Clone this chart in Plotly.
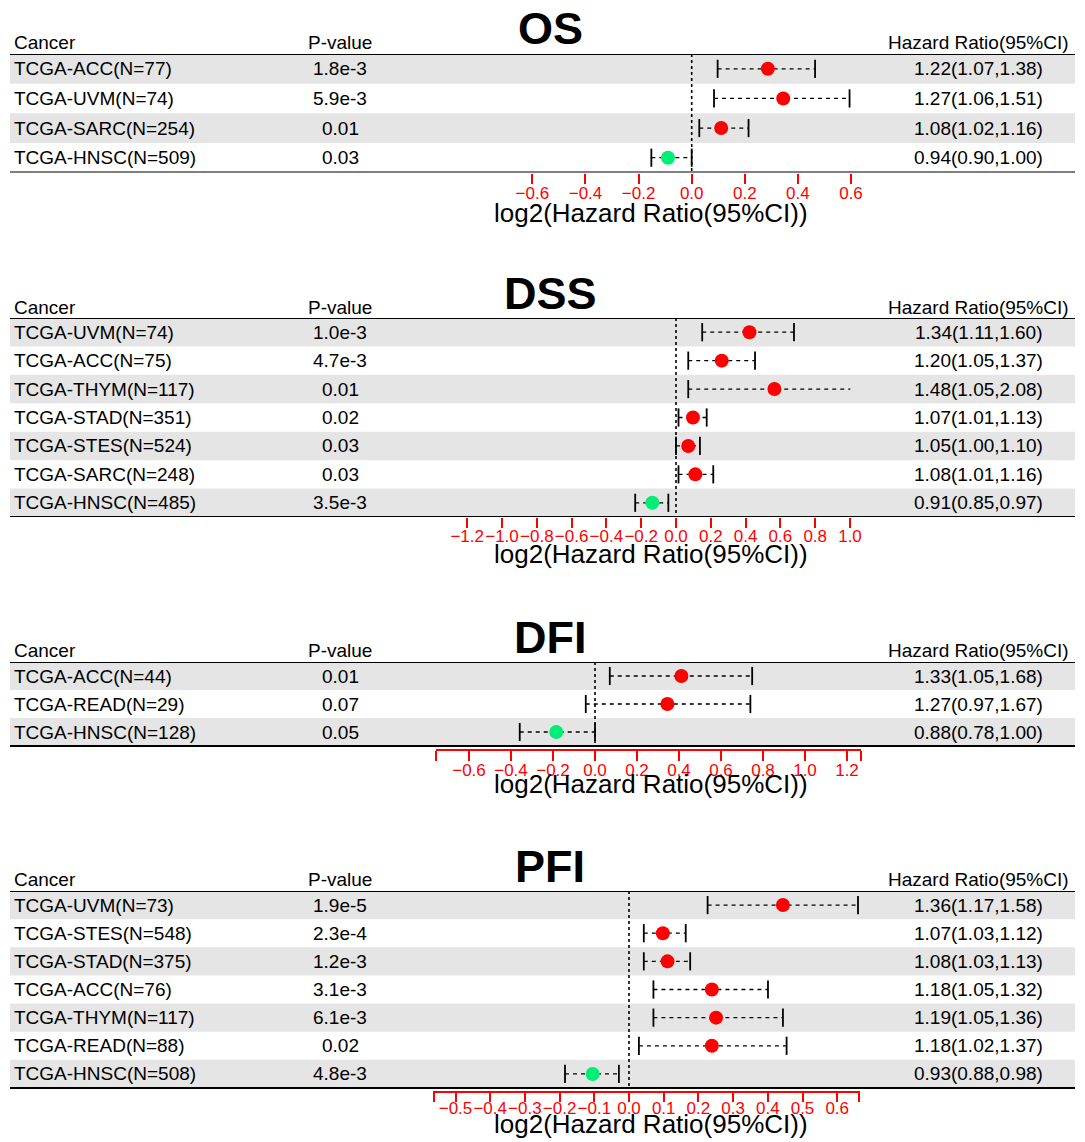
import numpy as np
import plotly.graph_objects as go

W, H = 1085, 1142

# ---------------- data ----------------
os_cancer = ["TCGA-ACC(N=77)", "TCGA-UVM(N=74)", "TCGA-SARC(N=254)", "TCGA-HNSC(N=509)"]
os_p = ["1.8e-3", "5.9e-3", "0.01", "0.03"]
os_hr = [1.22, 1.27, 1.08, 0.94]
os_lo = [1.07, 1.06, 1.02, 0.90]
os_hi = [1.38, 1.51, 1.16, 1.00]

dss_cancer = ["TCGA-UVM(N=74)", "TCGA-ACC(N=75)", "TCGA-THYM(N=117)", "TCGA-STAD(N=351)",
              "TCGA-STES(N=524)", "TCGA-SARC(N=248)", "TCGA-HNSC(N=485)"]
dss_p = ["1.0e-3", "4.7e-3", "0.01", "0.02", "0.03", "0.03", "3.5e-3"]
dss_hr = [1.34, 1.20, 1.48, 1.07, 1.05, 1.08, 0.91]
dss_lo = [1.11, 1.05, 1.05, 1.01, 1.00, 1.01, 0.85]
dss_hi = [1.60, 1.37, 2.08, 1.13, 1.10, 1.16, 0.97]

dfi_cancer = ["TCGA-ACC(N=44)", "TCGA-READ(N=29)", "TCGA-HNSC(N=128)"]
dfi_p = ["0.01", "0.07", "0.05"]
dfi_hr = [1.33, 1.27, 0.88]
dfi_lo = [1.05, 0.97, 0.78]
dfi_hi = [1.68, 1.67, 1.00]

pfi_cancer = ["TCGA-UVM(N=73)", "TCGA-STES(N=548)", "TCGA-STAD(N=375)", "TCGA-ACC(N=76)",
              "TCGA-THYM(N=117)", "TCGA-READ(N=88)", "TCGA-HNSC(N=508)"]
pfi_p = ["1.9e-5", "2.3e-4", "1.2e-3", "3.1e-3", "6.1e-3", "0.02", "4.8e-3"]
pfi_hr = [1.36, 1.07, 1.08, 1.18, 1.19, 1.18, 0.93]
pfi_lo = [1.17, 1.03, 1.03, 1.05, 1.05, 1.02, 0.88]
pfi_hi = [1.58, 1.12, 1.13, 1.32, 1.36, 1.37, 0.98]

os_ticks = [-0.6, -0.4, -0.2, 0.0, 0.2, 0.4, 0.6]
dss_ticks = [-1.2, -1.0, -0.8, -0.6, -0.4, -0.2, 0.0, 0.2, 0.4, 0.6, 0.8, 1.0]
dfi_ticks = [-0.6, -0.4, -0.2, 0.0, 0.2, 0.4, 0.6, 0.8, 1.0, 1.2]
pfi_ticks = [-0.5, -0.4, -0.3, -0.2, -0.1, 0.0, 0.1, 0.2, 0.3, 0.4, 0.5, 0.6]

panel_titles = ["OS", "DSS", "DFI", "PFI"]
header_labels = ["Cancer", "P-value", "Hazard Ratio(95%CI)"]
xlabel = "log2(Hazard Ratio(95%CI))"

# ---------------- layout geometry (pixels) ----------------
panels = [
    dict(title=panel_titles[0], cancer=os_cancer, p=os_p, hr=os_hr, lo=os_lo, hi=os_hi, ticks=os_ticks,
         top=54, bottom=172.5, title_y=29, head_y=43, xlab_y=213, axis_off=0, standoff=-5,
         ends=None, zero_px=691.7, ppu=265.5, rng=(-0.6, 0.6)),
    dict(title=panel_titles[1], cancer=dss_cancer, p=dss_p, hr=dss_hr, lo=dss_lo, hi=dss_hi, ticks=dss_ticks,
         top=318, bottom=517, title_y=293, head_y=307, xlab_y=554, axis_off=0, standoff=-6,
         ends=None, zero_px=676.0, ppu=174.0, rng=(-1.2, 1.0)),
    dict(title=panel_titles[2], cancer=dfi_cancer, p=dfi_p, hr=dfi_hr, lo=dfi_lo, hi=dfi_hi, ticks=dfi_ticks,
         top=662, bottom=746, title_y=637, head_y=651, xlab_y=784, axis_off=3, standoff=-5,
         ends=(-0.757, 1.266), zero_px=595.0, ppu=210.0, rng=(-0.757, 1.266)),
    dict(title=panel_titles[3], cancer=pfi_cancer, p=pfi_p, hr=pfi_hr, lo=pfi_lo, hi=pfi_hi, ticks=pfi_ticks,
         top=891, bottom=1088, title_y=866, head_y=880, xlab_y=1124, axis_off=2.5, standoff=-9,
         ends=(-0.562, 0.664), zero_px=629.0, ppu=347.0, rng=(-0.562, 0.664)),
]

FONT = "Liberation Sans, Arial, sans-serif"
RED = "#FF0000"
GREEN = "#00EE76"
GRAY = "#E5E5E5"
LEFT, RIGHT = 10, 1075
COL_P = 340
COL_HR = 978


def xp(px):
    return px / W


def yp(py):
    return 1 - py / H


def lab(v):
    s = "{:.1f}".format(abs(v))
    return ("\u2212" + s) if v < -1e-9 else s


fig = go.Figure()
shapes = []
annotations = []
layout_axes = {}

for k, P in enumerate(panels, start=1):
    xa = "x" if k == 1 else f"x{k}"
    ya = "y" if k == 1 else f"y{k}"
    n = len(P["cancer"])
    rows = list(range(1, n + 1))
    pitch = (P["bottom"] - P["top"]) / n

    # axes
    eps = 0.002
    v0, v1 = P["rng"][0] - eps, P["rng"][1] + eps
    d0 = xp(P["zero_px"] + v0 * P["ppu"])
    d1 = xp(P["zero_px"] + v1 * P["ppu"])
    tv = list(P["ticks"])
    tt = [lab(v) for v in tv]
    if P["ends"]:
        tv = [P["ends"][0]] + tv + [P["ends"][1]]
        tt = [""] + tt + [""]
    off = P["axis_off"]
    ybot_px = P["bottom"] + off
    layout_axes["xaxis" if k == 1 else f"xaxis{k}"] = dict(
        domain=[d0, d1], range=[v0, v1], anchor=ya, side="bottom",
        showgrid=False, zeroline=False, automargin=False,
        showline=P["ends"] is not None, linecolor=RED, linewidth=1.5,
        ticks="outside", ticklen=10, tickwidth=1.5, tickcolor=RED,
        tickvals=tv, ticktext=tt, tickangle=0, ticklabelstandoff=P["standoff"],
        tickfont=dict(family=FONT, size=17, color=RED),
    )
    layout_axes["yaxis" if k == 1 else f"yaxis{k}"] = dict(
        domain=[yp(ybot_px), yp(P["top"])],
        range=[n + 0.5 + off / pitch, 0.5], anchor=xa, automargin=False,
        visible=False, showgrid=False, zeroline=False,
    )

    # gray bands
    for i in rows:
        if i % 2 == 1:
            shapes.append(dict(type="rect", xref="paper", yref=ya, x0=xp(LEFT), x1=xp(RIGHT),
                               y0=i - 0.5, y1=i + 0.5, fillcolor=GRAY, line=dict(width=0),
                               layer="below"))
    # zero dotted line
    shapes.append(dict(type="line", xref=xa, yref=ya, x0=0, x1=0, y0=0.5, y1=n + 0.5,
                       line=dict(color="black", width=1.6, dash="dot"), layer="below"))
    # table lines
    for yv in (0.5, n + 0.5):
        shapes.append(dict(type="line", xref="paper", yref=ya, x0=xp(LEFT), x1=xp(RIGHT),
                           y0=yv, y1=yv, line=dict(color="black", width=2), layer="above"))

    # CI dashed lines
    lx, ly = [], []
    for i, lo, hi in zip(rows, P["lo"], P["hi"]):
        lx += [np.log2(lo), np.log2(hi), None]
        ly += [i, i, None]
    fig.add_trace(go.Scatter(x=lx, y=ly, xaxis=xa, yaxis=ya, mode="lines",
                             line=dict(color="black", width=1.3, dash="4px,4px"),
                             hoverinfo="skip", showlegend=False, cliponaxis=False))
    # caps
    cx = [np.log2(v) for v in P["lo"]] + [np.log2(v) for v in P["hi"]]
    cy = rows + rows
    fig.add_trace(go.Scatter(x=cx, y=cy, xaxis=xa, yaxis=ya, mode="markers",
                             marker=dict(symbol="line-ns", size=13,
                                         line=dict(color="black", width=1.8)),
                             hoverinfo="skip", showlegend=False, cliponaxis=False))
    # points
    cols = [RED if h > 1 else GREEN for h in P["hr"]]
    fig.add_trace(go.Scatter(x=[np.log2(h) for h in P["hr"]], y=rows, xaxis=xa, yaxis=ya,
                             mode="markers", marker=dict(size=14, color=cols, line=dict(width=0)),
                             showlegend=False, cliponaxis=False))

    # table text
    for i, c, p, hr, lo, hi in zip(rows, P["cancer"], P["p"], P["hr"], P["lo"], P["hi"]):
        annotations.append(dict(xref="paper", yref=ya, x=xp(12), y=i, text=c, showarrow=False,
                                xanchor="left", yanchor="middle",
                                font=dict(family=FONT, size=19, color="black")))
        annotations.append(dict(xref="paper", yref=ya, x=xp(COL_P), y=i, text=p, showarrow=False,
                                xanchor="center", yanchor="middle",
                                font=dict(family=FONT, size=19, color="black")))
        annotations.append(dict(xref="paper", yref=ya, x=xp(COL_HR), y=i,
                                text=f"{hr:.2f}({lo:.2f},{hi:.2f})", showarrow=False,
                                xanchor="center", yanchor="middle",
                                font=dict(family=FONT, size=19, color="black")))
    # headers
    for txt, x, anc in zip(header_labels, (12, COL_P, COL_HR), ("left", "center", "center")):
        annotations.append(dict(xref="paper", yref="paper", x=xp(x), y=yp(P["head_y"]), text=txt,
                                showarrow=False, xanchor=anc, yanchor="middle",
                                font=dict(family=FONT, size=19, color="black")))
    # title
    annotations.append(dict(xref="paper", yref="paper", x=xp(550), y=yp(P["title_y"]),
                            text=f"<b>{P['title']}</b>", showarrow=False, xanchor="center",
                            yanchor="middle", font=dict(family=FONT, size=45, color="black")))
    # x label
    annotations.append(dict(xref="paper", yref="paper", x=xp(651), y=yp(P["xlab_y"]),
                            text=xlabel, showarrow=False, xanchor="center", yanchor="middle",
                            font=dict(family=FONT, size=26, color="black")))

fig.update_layout(
    width=W, height=H, margin=dict(l=0, r=0, t=0, b=0, pad=0, autoexpand=False),
    paper_bgcolor="white", plot_bgcolor="rgba(0,0,0,0)",
    shapes=shapes, annotations=annotations, showlegend=False,
    **layout_axes,
)

fig.write_html(
    "out.html",
    config={"displayModeBar": False},
    post_script="document.body.style.margin='0';document.body.style.overflow='hidden';",
)
